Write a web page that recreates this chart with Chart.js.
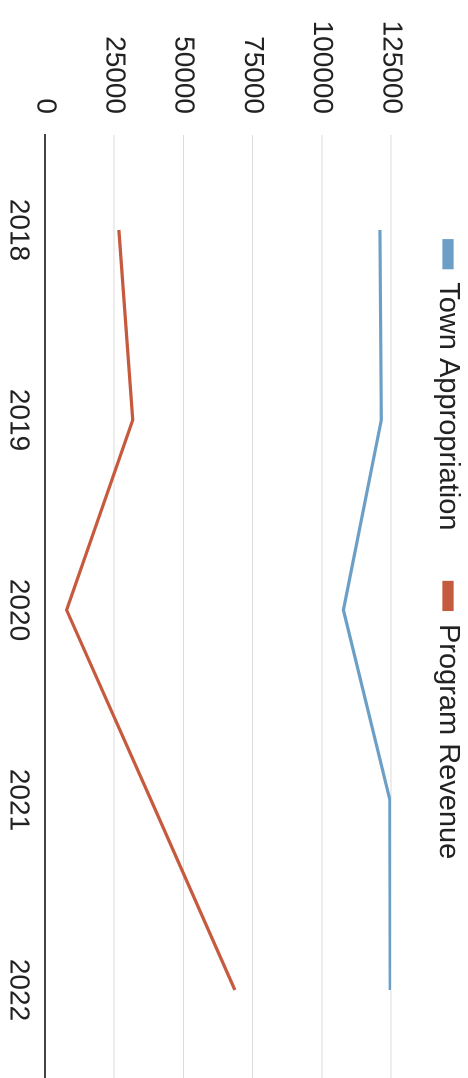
<!DOCTYPE html>
<html>
<head>
<meta charset="utf-8">
<script src="https://cdn.jsdelivr.net/npm/chart.js@4.4.1/dist/chart.umd.min.js"></script>
<style>
  html, body { margin: 0; padding: 0; background: #ffffff; overflow: hidden; width: 468px; height: 1078px; }
  #wrap { position: absolute; left: 468px; top: 0; width: 1090px; height: 468px; transform-origin: 0 0; transform: rotate(90deg); }
</style>
</head>
<body>
<div id="wrap"><canvas id="c" width="1090" height="468"></canvas></div>
<script>
const categories = ['2018', '2019', '2020', '2021', '2022'];
const townAppropriation = [121000, 121500, 107800, 124600, 124700];
const programRevenue = [26700, 31700, 7800, 38300, 68600];
const seriesNames = ['Town Appropriation', 'Program Revenue'];
const yTicks = [0, 25000, 50000, 75000, 100000, 125000];

const blue = '#6b9fc6';
const orange = '#c65a3e';
const FONT = "'Liberation Sans', Arial, sans-serif";

new Chart(document.getElementById('c'), {
  type: 'line',
  data: {
    labels: categories,
    datasets: [
      { label: seriesNames[0], data: townAppropriation, borderColor: blue, backgroundColor: blue, borderWidth: 3.2, pointRadius: 0, tension: 0 },
      { label: seriesNames[1], data: programRevenue, borderColor: orange, backgroundColor: orange, borderWidth: 3.2, pointRadius: 0, tension: 0 }
    ]
  },
  options: {
    responsive: false,
    animation: false,
    devicePixelRatio: 2,
    layout: { padding: { left: 15, right: 5, top: -46.5, bottom: 0 } },
    plugins: {
      tooltip: { enabled: false },
      legend: {
        display: true,
        position: 'top',
        labels: {
          font: { family: FONT, size: 29 },
          color: '#222222',
          boxWidth: 27,
          boxHeight: 8,
          padding: 52
        }
      },
      title: {
        display: true,
        text: '',
        weight: 500,
        font: { size: 10, lineHeight: 1 },
        padding: { top: 22.5, bottom: 0 }
      }
    },
    scales: {
      x: {
        offset: true,
        grid: { display: false, drawTicks: false },
        border: { display: true, color: '#444444', width: 2 },
        ticks: { font: { family: FONT, size: 28 }, color: '#222222', padding: 10, maxRotation: 0 },
        afterFit: (scale) => { scale.height = 45; }
      },
      y: {
        min: yTicks[0],
        max: yTicks[yTicks.length - 1],
        afterBuildTicks: (scale) => { scale.ticks = yTicks.map(v => ({ value: v })); },
        afterFit: (scale) => { scale.width = 120; },
        grid: { color: '#dcdcdc', lineWidth: 1, drawTicks: false },
        border: { display: false },
        ticks: { font: { family: FONT, size: 28 }, color: '#222222', padding: 21, callback: (v) => String(v) }
      }
    }
  }
});
</script>
</body>
</html>
